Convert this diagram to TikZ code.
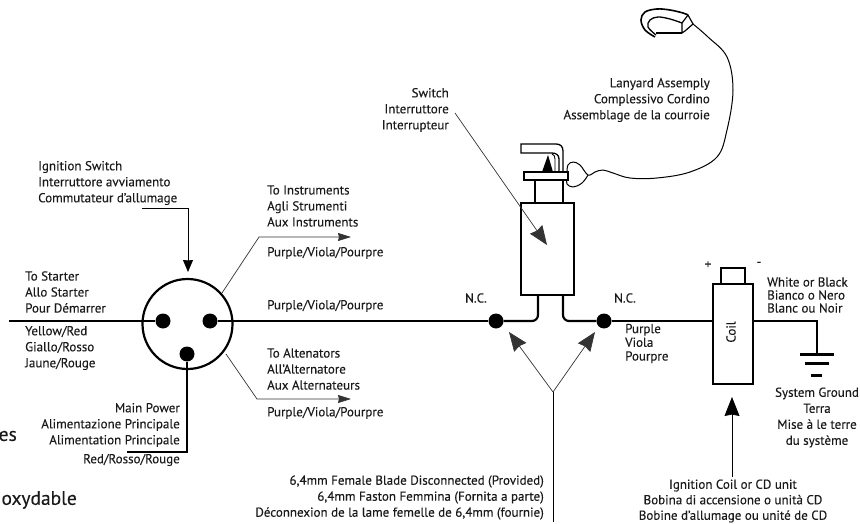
\documentclass[tikz,border=0pt]{standalone}
\usepackage{fontspec}
\setmainfont{PT Sans}[FakeBold=0.18]
\usetikzlibrary{arrows.meta}
\definecolor{ink}{HTML}{1A1A1A}
\tikzset{
  lbl/.style={inner sep=0pt,text=ink,font=\fontsize{13}{16}\selectfont,align=left},
  lblL/.style={lbl,anchor=west,align=left},
  lblR/.style={lbl,anchor=east,align=right},
  lblC/.style={lbl,align=center},
  big/.style={inner sep=0pt,text=ink,font=\fontsize{19.5}{20}\selectfont,anchor=east},
  wire/.style={line width=2.2pt,black},
  thin/.style={line width=0.7pt,black!80},
  pin/.style={circle,fill=black,inner sep=0pt,minimum size=15pt},
  shell/.style={draw=black,line width=1.1pt,fill=white,inner sep=0pt},
  head/.style={-{Stealth[length=19pt,width=15pt,inset=1.5pt]}},
  midhead/.style={-{Stealth[length=12pt,width=10pt,inset=0.5pt]}},
  smallhead/.style={-{Stealth[length=13pt,width=8pt,inset=1pt]}},
  cord/.style={line width=1pt,black,line join=round},
}
\begin{document}
\begin{tikzpicture}[x=1pt,y=-1pt]
\useasboundingbox (0,0) rectangle (860,524);
% switch connector
\node[circle,draw=black,line width=2.2pt,minimum size=90pt,inner sep=0pt] (conn) at (187.5,324) {};
\node[pin] (pinL) at (163,321) {};
\node[pin] (pinR) at (210,321) {};
\node[pin] (pinB) at (187,354) {};
\node[pin] (ncL) at (496,321) {};
\node[pin] (ncR) at (604,321) {};
\coordinate (startEnd) at (9,321);
\coordinate (pwrCorner) at (187,452);
\coordinate (pwrEnd) at (127,452);
\draw[wire] (startEnd) -- (pinL);
\draw[wire] (pinR) -- (ncL);
\draw[wire] (pinB) -- (pwrCorner) -- (pwrEnd);
% switch body
\node[shell,minimum width=53pt,minimum height=92pt] (body) at (547.5,249) {};
\coordinate (swL) at (538,295);
\coordinate (swR) at (563,295);
\draw[wire,rounded corners=6pt] (ncL) -- (538,321) -- (swL);
\draw[wire,rounded corners=6pt] (ncR) -- (563,321) -- (swR);
\draw[shell] (535,180) rectangle (563,203);
% handle
\draw[line width=1.3pt,black,fill=white] (563,172) -- (563,151) .. controls (563,146) and (560,144) .. (556,144) -- (521,144) -- (521,153) -- (552,153) .. controls (556,153) and (559,155) .. (559,159) -- (559,172);
\draw[line width=0.9pt] (555,172) -- (555,159) .. controls (555,156) and (554,155) .. (552,154);
\fill[black] (548,155) -- (553,172) -- (542,172) -- cycle;
\node[shell,minimum width=44pt,minimum height=8pt] (flange) at (546,176) {};
% lanyard
\draw[cord] plot[smooth,tension=0.6] coordinates {(567,172) (568,165) (573,162) (580,165) (588,175) (595,172) (603,170) (613,173) (630,178) (657,178) (690,172) (717,157) (727,130) (733,90) (727,57) (708,37) (693,24)};
\draw[cord] plot[smooth,tension=0.7] coordinates {(567,180) (567,184) (573,187) (582,183) (588,175)};
\draw[line width=1.6pt,black] plot[smooth,tension=0.6] coordinates {(655,37) (645,30) (641,20) (645,12) (657,9) (670,10) (683,13) (688,15)};
\draw[line width=1.3pt,black] plot[smooth,tension=0.6] coordinates {(656,35) (648,27) (650,20) (658,17) (670,19) (682,23)};
\draw[line width=2.2pt] (656,33) -- (682,33);
\draw[line width=1.2pt,line join=round] (688,15) -- (693,24) -- (685,31) -- (682,33) -- (682,23) -- cycle;
% coil
\node[shell,minimum width=40pt,minimum height=100pt] (coil) at (733,334) {};
\node[shell,minimum width=24pt,minimum height=16pt] (cap) at (733,276) {};
\coordinate (gndTop) at (817,354);
\draw[wire] (ncR) -- (coil.west |- ncR);
\draw[wire] (coil.east |- ncR) -- (817,321) -- (gndTop);
\draw[line width=3pt] (800,354) -- (834,354);
\draw[line width=3pt] (805,363) -- (829,363);
\draw[line width=3pt] (811,375) -- (822,375);
% leader arrows
\coordinate (ignA) at (142,208);
\coordinate (ignB) at (188,208);
\coordinate (ignT) at (188,272);
\draw[thin,midhead,black] (ignA) -- (ignB) -- (ignT);
\coordinate (insA) at (222,293); \coordinate (insB) at (259,237); \coordinate (insT) at (351,237);
\draw[thin,smallhead] (insA) -- (insB) -- (insT);
\coordinate (altA) at (226,354); \coordinate (altB) at (257,399); \coordinate (altT) at (351,399);
\draw[thin,smallhead] (altA) -- (altB) -- (altT);
\coordinate (swA) at (455,113); \coordinate (swT) at (547,245);
\draw[thin,head] (swA) -- (swT);
\coordinate (fork) at (553,392); \coordinate (forkEnd) at (553,522);
\draw[thin,black] (fork) -- (forkEnd);
\coordinate (forkL) at (509,332); \coordinate (forkR) at (595,332);
\draw[thin,head] (fork) -- (forkL);
\draw[thin,head] (fork) -- (forkR);
\coordinate (coilA) at (732,477); \coordinate (coilT) at (732,397);
\draw[thin,head,black] (coilA) -- (coilT);
% labels
\node[lblL] (t1) at (38,183) {Ignition Switch\\Interruttore avviamento\\Commutateur d'allumage};
\node[lblL] (t2) at (267,206) {To Instruments\\Agli Strumenti\\Aux Instruments};
\node[lblL] (t3) at (267,253) {Purple/Viola/Pourpre};
\node[lblL] (t4) at (267,306) {Purple/Viola/Pourpre};
\node[lblL] (t5) at (267,369) {To Altenators\\All'Alternatore\\Aux Alternateurs};
\node[lblL] (t6) at (267,413) {Purple/Viola/Pourpre};
\node[lblL] (t7) at (25,292) {To Starter\\Allo Starter\\Pour Démarrer};
\node[lblL] (t8) at (25,348) {Yellow/Red\\Giallo/Rosso\\Jaune/Rouge};
\node[lblR] (t9) at (180,425) {Main Power\\Alimentazione Principale\\Alimentation Principale};
\node[lblR] (t10) at (180,460) {Red/Rosso/Rouge};
\node[lblR] (t11) at (449,110) {Switch\\Interruttore\\Interrupteur};
\node[lblR] (t12) at (710,100) {Lanyard Assemply\\Complessivo Cordino\\Assemblage de la courroie};
\node[lbl] (t13) at (476,298) {N.C.};
\node[lbl] (t14) at (625,298) {N.C.};
\node[lblL,font=\fontsize{13}{13.7}\selectfont] (t15) at (625,343.5) {Purple\\Viola\\Pourpre};
\node[lblL,font=\fontsize{13}{13}\selectfont] (t16) at (767,295) {White or Black\\Bianco o Nero\\Blanc ou Noir};
\node[lbl] (t17) at (708,265) {+};
\node[lbl] (t18) at (759,264) {-};
\node[lbl,rotate=90] (t19) at (731,332) {Coil};
\node[lblC] (t20) at (817,417.5) {System Ground\\Terra\\Mise à le terre\\du système};
\node[lblR] (t21) at (544,497.5) {6,4mm Female Blade Disconnected (Provided)\\6,4mm Faston Femmina (Fornita a parte)\\Déconnexion de la lame femelle de 6,4mm (fournie)};
\node[lblC,font=\fontsize{13}{15.5}\selectfont] (t22) at (733,501) {Ignition Coil or CD unit\\Bobina di accensione o unità CD\\Bobine d'allumage ou unité de CD};
\node[big] (t23) at (17,436) {es};
\node[big] (t24) at (77,500) {oxydable};
\end{tikzpicture}
\end{document}
